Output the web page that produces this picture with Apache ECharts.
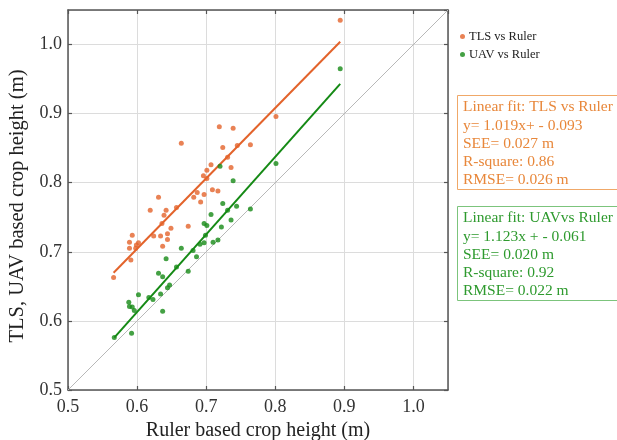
<!DOCTYPE html>
<html>
<head>
<meta charset="utf-8">
<script src="https://cdn.jsdelivr.net/npm/echarts@6/dist/echarts.min.js"></script>
<style>html,body{margin:0;padding:0;background:#fff}#c{width:617px;height:440px}</style>
</head>
<body>
<div id="c"></div>
<script>
// ---- data ----
var tlsRuler = [0.566,0.591,0.589,0.598,0.599,0.602,0.589,0.593,0.624,0.634,0.644,0.644,0.637,0.636,0.649,0.674,0.619,0.642,0.639,0.657,0.631,0.664,0.682,0.687,0.697,0.709,0.717,0.692,0.696,0.701,0.701,0.707,0.736,0.731,0.724,0.745,0.764,0.719,0.739,0.801,0.894];
var tlsHeight = [0.663,0.688,0.705,0.705,0.710,0.713,0.714,0.724,0.723,0.723,0.726,0.718,0.708,0.741,0.734,0.737,0.760,0.760,0.753,0.764,0.779,0.857,0.779,0.786,0.783,0.790,0.788,0.772,0.810,0.806,0.818,0.826,0.822,0.837,0.851,0.854,0.855,0.881,0.879,0.896,1.035];
var uavRuler = [0.567,0.592,0.588,0.589,0.593,0.596,0.602,0.617,0.623,0.637,0.634,0.644,0.647,0.631,0.637,0.642,0.657,0.674,0.664,0.681,0.686,0.691,0.697,0.699,0.697,0.701,0.707,0.710,0.717,0.722,0.724,0.731,0.744,0.736,0.764,0.720,0.739,0.801,0.894];
var uavHeight = [0.576,0.582,0.627,0.621,0.620,0.615,0.638,0.634,0.631,0.614,0.639,0.648,0.652,0.669,0.664,0.690,0.678,0.672,0.705,0.702,0.693,0.711,0.713,0.724,0.741,0.738,0.754,0.714,0.717,0.736,0.770,0.760,0.766,0.746,0.762,0.824,0.803,0.828,0.965];
var tlsFit = {slope: 1.019, intercept: 0.093};
var uavFit = {slope: 1.123, intercept: -0.061};
var axisMin = 0.5, axisMax = 1.05, axisStep = 0.1;
var seriesNames = ['TLS vs Ruler', 'UAV vs Ruler'];
var xTitle = 'Ruler based crop height (m)';
var yTitle = 'TLS, UAV based crop height (m)';
var tlsBoxText = ['Linear fit: TLS vs Ruler','y= 1.019x+ - 0.093','SEE= 0.027 m','R-square: 0.86','RMSE= 0.026 m'];
var uavBoxText = ['Linear fit: UAVvs Ruler','y= 1.123x + - 0.061','SEE= 0.020 m','R-square: 0.92','RMSE= 0.022 m'];

// ---- build ----
function pairs(xs, ys){ return xs.map(function(x,i){ return [x, ys[i]]; }); }
function fitLine(xs, fit){
  var lo = Math.min.apply(null, xs), hi = Math.max.apply(null, xs);
  return [[lo, fit.slope*lo + fit.intercept], [hi, fit.slope*hi + fit.intercept]];
}
var ORANGE = '#E3632B', GREEN = '#158A15';
var FONT = 'Liberation Serif';
var fmt = function(v){ return v.toFixed(1); };

function axisCommon(extra){
  var a = {
    type: 'value', min: axisMin, max: axisMax, interval: axisStep,
    axisLine: {show: true, lineStyle: {color: '#555', width: 1.5}},
    axisTick: {show: true, inside: true, length: 4, lineStyle: {color: '#555', width: 1.2}},
    splitLine: {show: false},
    axisLabel: {show: false}
  };
  for (var k in extra) a[k] = extra[k];
  return a;
}

var chart = echarts.init(document.getElementById('c'), null, {renderer: 'canvas'});
chart.setOption({
  animation: false,
  backgroundColor: '#fff',
  grid: {left: 68, top: 10, right: 169, bottom: 50, show: false, containLabel: false, outerBoundsMode: 'none'},
  legend: {
    orient: 'vertical', left: 455, top: 25, itemGap: 5,
    itemWidth: 5, itemHeight: 5, icon: 'circle',
    data: seriesNames,
    textStyle: {fontFamily: FONT, fontSize: 12.5, color: '#222', padding: [0,0,0,-1]}
  },
  xAxis: [
    axisCommon({position: 'bottom',
      splitLine: {show: true, lineStyle: {color: '#dcdcdc', width: 1}},
      axisLabel: {show: true, formatter: fmt, showMaxLabel: false, fontFamily: FONT, fontSize: 18, color: '#333', margin: 8},
      name: xTitle, nameLocation: 'middle', nameGap: 31,
      nameTextStyle: {fontFamily: FONT, fontSize: 20, color: '#222'}}),
    axisCommon({position: 'top'})
  ],
  yAxis: [
    axisCommon({position: 'left',
      splitLine: {show: true, lineStyle: {color: '#dcdcdc', width: 1}},
      axisLabel: {show: true, formatter: fmt, showMaxLabel: false, fontFamily: FONT, fontSize: 18, color: '#333', margin: 6},
      name: yTitle, nameLocation: 'middle', nameGap: 40,
      nameTextStyle: {fontFamily: FONT, fontSize: 20.5, color: '#222', padding: [0, 12, 0, 0]}}),
    axisCommon({position: 'right'})
  ],
  series: [
    {type: 'line', name: 'oneToOne', data: [[axisMin, axisMin],[axisMax, axisMax]], showSymbol: false, silent: true,
     lineStyle: {color: '#b8b8b8', width: 1}, z: 1},
    {type: 'line', name: 'tlsFit', data: fitLine(tlsRuler, tlsFit), showSymbol: false, lineStyle: {color: ORANGE, width: 2}, z: 2},
    {type: 'line', name: 'uavFit', data: fitLine(uavRuler, uavFit), showSymbol: false, lineStyle: {color: GREEN, width: 2}, z: 2},
    {type: 'scatter', name: seriesNames[0], data: pairs(tlsRuler, tlsHeight), symbolSize: 5, itemStyle: {color: ORANGE}, z: 3},
    {type: 'scatter', name: seriesNames[1], data: pairs(uavRuler, uavHeight), symbolSize: 5, itemStyle: {color: GREEN}, z: 3}
  ],
  graphic: [
    {type: 'rect', shape: {x: 457.5, y: 95.5, width: 170, height: 94}, style: {fill: '#fff', stroke: '#F0A868', lineWidth: 1}},
    {type: 'text', x: 463, y: 98, style: {text: tlsBoxText.join('\n'), fill: '#E8873A', font: '15.5px "Liberation Serif"', lineHeight: 18.3}},
    {type: 'rect', shape: {x: 457.5, y: 206.5, width: 170, height: 94}, style: {fill: '#fff', stroke: '#7CC47C', lineWidth: 1}},
    {type: 'text', x: 463, y: 209, style: {text: uavBoxText.join('\n'), fill: '#2E9A2E', font: '15.5px "Liberation Serif"', lineHeight: 18.3}}
  ]
});
</script>
</body>
</html>
